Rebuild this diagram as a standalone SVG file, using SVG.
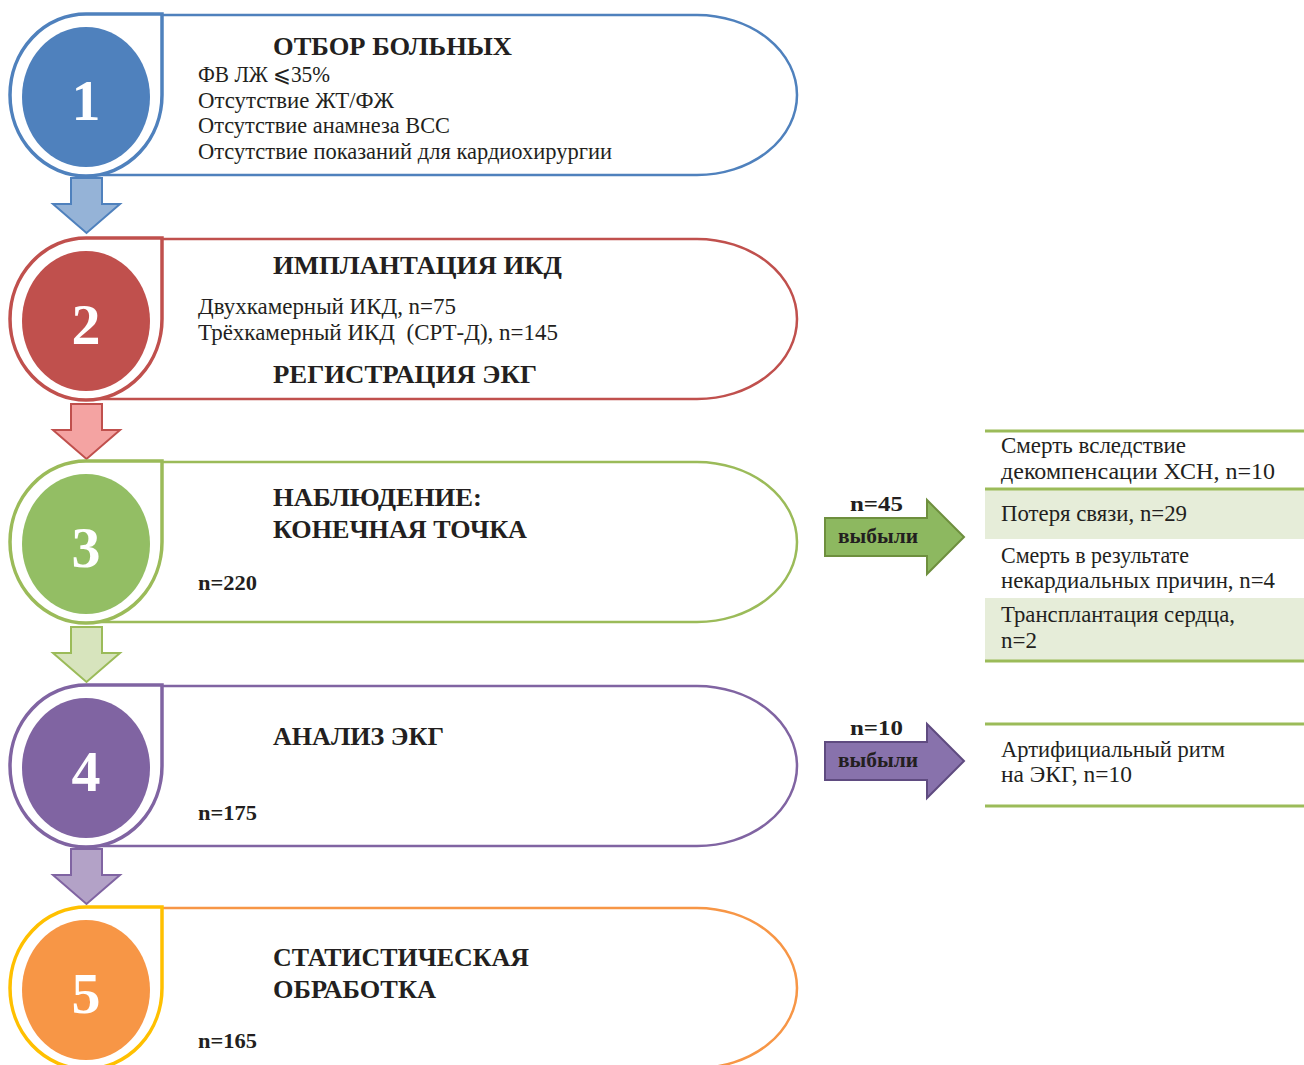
<svg xmlns="http://www.w3.org/2000/svg" width="1304" height="1065" viewBox="0 0 1304 1065">
<style>
text{font-family:"Liberation Serif","Times New Roman",serif;fill:#231F20}
.t{font-size:26px;font-weight:bold}
.b{font-size:23px}
.nb{font-size:22px;font-weight:bold}
.num{font-size:58px;font-weight:bold;fill:#fff;text-anchor:middle}
.pill{fill:none;stroke-width:2.5}
.tear{fill:#fff;stroke-width:3.5}
.tl{stroke:#9BBB59;stroke-width:3}
</style>
<defs>
<path id="tear" d="M86,0 H162 V81 A76,81 0 1 1 86,0 Z"/>
<path id="pillp" d="M162,1 H697 A100,80 0 0 1 697,161 H86"/>
<path id="darr" d="M71,0 H102 V26 H120 L86.5,55 L53,26 H71 Z"/>
<path id="rarr" d="M825,18 H927 V0 L964,37 L927,74 V56 H825 Z"/>
</defs>
<g id="connectors">
<use href="#darr" x="0" y="178" fill="#95B3D7" stroke="#4F81BD" stroke-width="2"/>
<use href="#darr" x="0" y="404" fill="#F4A3A2" stroke="#C0504D" stroke-width="2"/>
<use href="#darr" x="0" y="627" fill="#D7E4BD" stroke="#9BBB59" stroke-width="2"/>
<use href="#darr" x="0" y="849" fill="#B3A2C7" stroke="#8064A2" stroke-width="2"/>
<use href="#rarr" x="0" y="500" fill="#8DB860" stroke="#6E8F3E" stroke-width="2"/>
<use href="#rarr" x="0" y="724" fill="#8872AC" stroke="#5F4B80" stroke-width="2"/>
</g>
<g id="node1">
<use href="#pillp" y="14" class="pill" stroke="#4F81BD"/>
<use href="#tear" y="14" class="tear" stroke="#4F81BD"/>
<ellipse cx="86" cy="97" rx="64" ry="70" fill="#4F81BD"/>
<text class="num" x="86" y="120">1</text>
<text class="t" x="273" y="55" textLength="239" lengthAdjust="spacingAndGlyphs">ОТБОР БОЛЬНЫХ</text>
<text class="b" x="198" y="82" textLength="132" lengthAdjust="spacingAndGlyphs">ФВ ЛЖ ⩽35%</text>
<text class="b" x="198" y="108" textLength="196" lengthAdjust="spacingAndGlyphs">Отсутствие ЖТ/ФЖ</text>
<text class="b" x="198" y="133" textLength="252" lengthAdjust="spacingAndGlyphs">Отсутствие анамнеза ВСС</text>
<text class="b" x="198" y="159" textLength="414" lengthAdjust="spacingAndGlyphs">Отсутствие показаний для кардиохирургии</text>
</g>
<g id="node2">
<use href="#pillp" y="238" class="pill" stroke="#C0504D"/>
<use href="#tear" y="238" class="tear" stroke="#C0504D"/>
<ellipse cx="86" cy="321" rx="64" ry="70" fill="#C0504D"/>
<text class="num" x="86" y="344">2</text>
<text class="t" x="273" y="274" textLength="289" lengthAdjust="spacingAndGlyphs">ИМПЛАНТАЦИЯ ИКД</text>
<text class="b" x="198" y="314" textLength="258" lengthAdjust="spacingAndGlyphs">Двухкамерный ИКД, n=75</text>
<text class="b" x="198" y="340" textLength="360" lengthAdjust="spacingAndGlyphs" xml:space="preserve">Трёхкамерный ИКД  (СРТ-Д), n=145</text>
<text class="t" x="273" y="383" textLength="264" lengthAdjust="spacingAndGlyphs">РЕГИСТРАЦИЯ ЭКГ</text>
</g>
<g id="node3">
<use href="#pillp" y="461" class="pill" stroke="#9BBB59"/>
<use href="#tear" y="461" class="tear" stroke="#9BBB59"/>
<ellipse cx="86" cy="544" rx="64" ry="70" fill="#93BE64"/>
<text class="num" x="86" y="567">3</text>
<text class="t" x="273" y="506" textLength="209" lengthAdjust="spacingAndGlyphs">НАБЛЮДЕНИЕ:</text>
<text class="t" x="273" y="538" textLength="254" lengthAdjust="spacingAndGlyphs">КОНЕЧНАЯ ТОЧКА</text>
<text class="nb" x="198" y="590" textLength="59" lengthAdjust="spacingAndGlyphs">n=220</text>
</g>
<g id="node4">
<use href="#pillp" y="685" class="pill" stroke="#8064A2"/>
<use href="#tear" y="685" class="tear" stroke="#8064A2"/>
<ellipse cx="86" cy="768" rx="64" ry="70" fill="#8064A2"/>
<text class="num" x="86" y="791">4</text>
<text class="t" x="273" y="745" textLength="171" lengthAdjust="spacingAndGlyphs">АНАЛИЗ ЭКГ</text>
<text class="nb" x="198" y="820" textLength="59" lengthAdjust="spacingAndGlyphs">n=175</text>
</g>
<g id="node5">
<use href="#pillp" y="907" class="pill" stroke="#F79646"/>
<use href="#tear" y="907" class="tear" stroke="#FFC000"/>
<ellipse cx="86" cy="990" rx="64" ry="70" fill="#F79646"/>
<text class="num" x="86" y="1013">5</text>
<text class="t" x="273" y="966" textLength="256" lengthAdjust="spacingAndGlyphs">СТАТИСТИЧЕСКАЯ</text>
<text class="t" x="273" y="998" textLength="163" lengthAdjust="spacingAndGlyphs">ОБРАБОТКА</text>
<text class="nb" x="198" y="1048" textLength="59" lengthAdjust="spacingAndGlyphs">n=165</text>
</g>
<g id="dropout1">
<text class="nb" x="850" y="511" textLength="53" lengthAdjust="spacingAndGlyphs">n=45</text>
<text class="nb" x="838" y="543" textLength="80" lengthAdjust="spacingAndGlyphs">выбыли</text>
</g>
<g id="dropout2">
<text class="nb" x="850" y="735" textLength="53" lengthAdjust="spacingAndGlyphs">n=10</text>
<text class="nb" x="838" y="767" textLength="80" lengthAdjust="spacingAndGlyphs">выбыли</text>
</g>
<g id="table1">
<rect x="985" y="489" width="319" height="50" fill="#E6EDD9"/>
<rect x="985" y="598" width="319" height="63" fill="#E6EDD9"/>
<line class="tl" x1="985" y1="431" x2="1304" y2="431"/>
<line class="tl" x1="985" y1="489" x2="1304" y2="489"/>
<line class="tl" x1="985" y1="661" x2="1304" y2="661"/>
<text class="b" x="1001" y="453" textLength="185" lengthAdjust="spacingAndGlyphs">Смерть вследствие</text>
<text class="b" x="1001" y="479" textLength="274" lengthAdjust="spacingAndGlyphs">декомпенсации ХСН, n=10</text>
<text class="b" x="1001" y="521" textLength="186" lengthAdjust="spacingAndGlyphs">Потеря связи, n=29</text>
<text class="b" x="1001" y="563" textLength="188" lengthAdjust="spacingAndGlyphs">Смерть в результате</text>
<text class="b" x="1001" y="588" textLength="274" lengthAdjust="spacingAndGlyphs">некардиальных причин, n=4</text>
<text class="b" x="1001" y="622" textLength="234" lengthAdjust="spacingAndGlyphs">Трансплантация сердца,</text>
<text class="b" x="1001" y="648" textLength="36" lengthAdjust="spacingAndGlyphs">n=2</text>
</g>
<g id="table2">
<line class="tl" x1="985" y1="724" x2="1304" y2="724"/>
<line class="tl" x1="985" y1="806" x2="1304" y2="806"/>
<text class="b" x="1001" y="757" textLength="224" lengthAdjust="spacingAndGlyphs">Артифициальный ритм</text>
<text class="b" x="1001" y="782" textLength="131" lengthAdjust="spacingAndGlyphs">на ЭКГ, n=10</text>
</g>
</svg>
